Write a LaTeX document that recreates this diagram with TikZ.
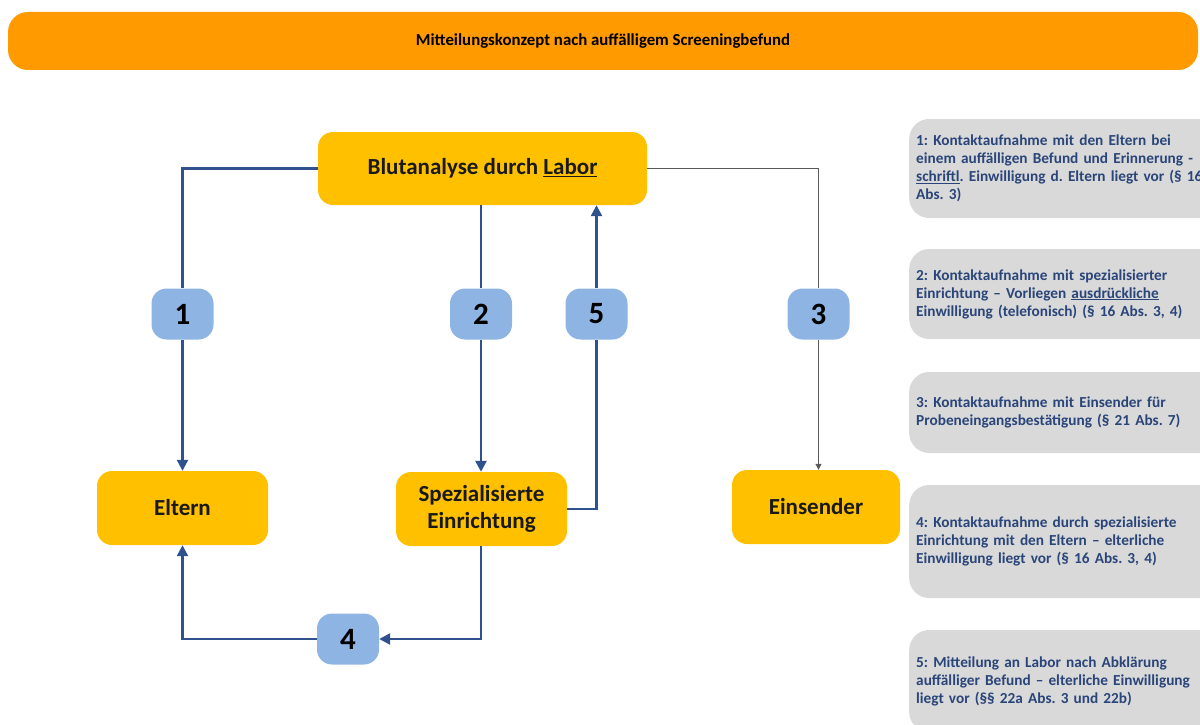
\documentclass[tikz,border=0pt]{standalone}
\usepackage{fontspec}
\setmainfont{Carlito}
\frenchspacing
\usetikzlibrary{arrows.meta}
\definecolor{barorange}{HTML}{FF9A00}
\definecolor{boxyellow}{HTML}{FFC000}
\definecolor{badgeblue}{HTML}{8EB4E3}
\definecolor{infogray}{HTML}{D9D9D9}
\definecolor{connblue}{HTML}{2F528F}
\definecolor{infotext}{HTML}{2A4579}
\definecolor{thinline}{HTML}{595959}
\tikzset{
  titlebar/.style={fill=barorange, rounded corners=20pt, minimum width=1190pt, minimum height=58pt, inner sep=0pt, font=\fontsize{16.8}{20}\selectfont\bfseries},
  mainbox/.style={fill=boxyellow, rounded corners=15pt, inner sep=0pt, font=\fontsize{23}{27}\selectfont\bfseries, align=center, text=black!90},
  badge/.style={fill=badgeblue, rounded corners=15pt, minimum width=62pt, minimum height=51pt, inner sep=0pt, font=\fontsize{31}{31}\selectfont\bfseries},
  infobox/.style={fill=infogray, rounded corners=20pt, anchor=west, minimum width=340pt, text width=326pt, inner xsep=7pt, inner ysep=0pt, align=left, text=infotext, font=\fontsize{15.3}{18}\selectfont\bfseries},
  conn/.style={draw=connblue, line width=2.4pt},
  connarrow/.style={conn, -{Triangle[length=11pt,width=11pt]}},
  thinconn/.style={draw=thinline, line width=1pt},
  thinarrow/.style={thinconn, -{Triangle[length=6pt,width=6pt]}}
}
\begin{document}
\begin{tikzpicture}[x=1pt,y=-1pt]
\useasboundingbox (0,0) rectangle (1200,725);
\clip (0,0) rectangle (1200,725);

\node[titlebar] (title) at (603,41) {Mitteilungskonzept nach auffälligem Screeningbefund};

\node[mainbox, minimum width=329pt, minimum height=73pt] (labor) at (482.5,168.5) {Blutanalyse durch \underline{Labor}};
\node[mainbox, minimum width=171pt, minimum height=74pt] (eltern) at (182.5,508) {Eltern};
\node[mainbox, minimum width=171pt, minimum height=74pt] (spez) at (481.5,509) {Spezialisierte\\Einrichtung};
\node[mainbox, minimum width=168pt, minimum height=74pt] (einsender) at (816,507) {Einsender};

\node[badge] (b1) at (182.5,314) {1};
\node[badge] (b2) at (481,314) {2};
\node[badge] (b5) at (596.5,314) {5};
\node[badge] (b3) at (818.5,314) {3};
\node[badge] (b4) at (348,639) {4};

% connector 1
\draw[conn] (labor.west) -| (b1.north);
\draw[connarrow] (b1.south) -- (eltern.north);
% connector 2
\draw[conn] (b2.north |- labor.south) -- (b2.north);
\draw[connarrow] (b2.south) -- (b2.south |- spez.north);
% connector 5
\draw[conn] (spez.east) -| (b5.south);
\draw[connarrow] (b5.north) -- (b5.north |- labor.south);
% connector 3
\draw[thinconn] (labor.east) -| (b3.north);
\draw[thinarrow] (b3.south) -- (b3.south |- einsender.north);
% connector 4
\draw[connarrow] (b2.south |- spez.south) |- (b4.east);
\draw[connarrow] (b4.west) -| (eltern.south);

% info boxes
\node[infobox, minimum height=99pt] (i1) at (909,168.5) {1: Kontaktaufnahme mit den Eltern bei\\ einem auffälligen Befund und Erinnerung -\\ \underline{schriftl}. Einwilligung d. Eltern liegt vor (§ 16\\ Abs. 3)};
\node[infobox, minimum height=90pt] (i2) at (909,294) {2: Kontaktaufnahme mit spezialisierter\\ Einrichtung – Vorliegen \underline{ausdrückliche}\\ Einwilligung (telefonisch) (§ 16 Abs. 3, 4)};
\node[infobox, minimum height=81pt] (i3) at (909,412.5) {3: Kontaktaufnahme mit Einsender für\\ Probeneingangsbestätigung (§ 21 Abs. 7)};
\node[infobox, minimum height=113pt] (i4) at (909,541.5) {4: Kontaktaufnahme durch spezialisierte\\ Einrichtung mit den Eltern – elterliche\\ Einwilligung liegt vor (§ 16 Abs. 3, 4)};
\node[infobox, minimum height=102pt] (i5) at (909,681) {5: Mitteilung an Labor nach Abklärung\\ auffälliger Befund – elterliche Einwilligung\\ liegt vor (§§ 22a Abs. 3 und 22b)};
\end{tikzpicture}
\end{document}
